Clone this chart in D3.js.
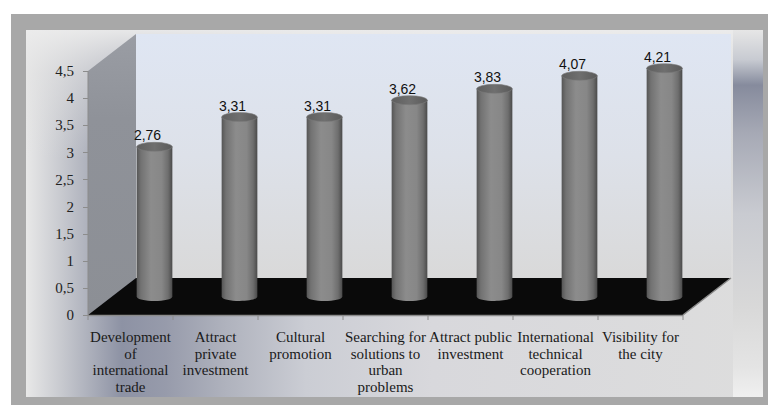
<!DOCTYPE html>
<html>
<head>
<meta charset="utf-8">
<script src="https://cdn.jsdelivr.net/npm/d3@7"></script>
<style>
  html, body { margin: 0; padding: 0; background: #fff; }
  svg { display: block; }
  .serif { font-family: "Liberation Serif", "Times New Roman", Times, serif; }
  .sans { font-family: "Liberation Sans", Arial, sans-serif; }
</style>
</head>
<body>
<div id="chart"></div>
<script>
"use strict";
// categories (with the line breaks used in the picture) and mean scores
var categories = [
  ["Development", "of", "international", "trade"],
  ["Attract", "private", "investment"],
  ["Cultural", "promotion"],
  ["Searching for", "solutions to", "urban", "problems"],
  ["Attract public", "investment"],
  ["International", "technical", "cooperation"],
  ["Visibility for", "the city"]
];
var values = [2.76, 3.31, 3.31, 3.62, 3.83, 4.07, 4.21];
var yTicks = [0, 0.5, 1, 1.5, 2, 2.5, 3, 3.5, 4, 4.5];

var w = 768, h = 405;
// oblique 3d offset of the back wall
var dx = 48, dy = -37;

var locale = d3.formatLocale({ decimal: ",", thousands: ".", grouping: [3], currency: ["", ""] });
var fmt = locale.format("~g");
var fmt2 = locale.format(".2f");

var svg = d3.select("#chart").append("svg")
  .attr("width", w)
  .attr("height", h);

var defs = svg.append("defs");

function linGrad(id, x1, y1, x2, y2, stops) {
  var g = defs.append("linearGradient").attr("id", id)
    .attr("x1", x1).attr("y1", y1).attr("x2", x2).attr("y2", y2);
  stops.forEach(function(s) {
    g.append("stop").attr("offset", s[0]).attr("stop-color", s[1])
      .attr("stop-opacity", s.length > 2 ? s[2] : 1);
  });
}

linGrad("panelH", 0, 0, 1, 0, [
  [0, "#e8e8e8"], [0.05, "#c6c8ce"], [0.13, "#8d92a4"], [0.19, "#979bab"],
  [0.27, "#afb2bd"], [0.38, "#cbcdd4"], [0.55, "#d8d8dc"], [1, "#dddddd"]
]);
linGrad("panelTop", 0, 0, 0, 1, [
  [0, "#ececec", 0.95], [0.12, "#e4e4e4", 0.55], [0.35, "#e0e0e0", 0]
]);
linGrad("rightStrip", 0, 0, 0, 1, [
  [0, "#e6e6e6"], [0.08, "#c8cbd2"], [0.15, "#868b9d"], [0.28, "#a6a9b5"],
  [0.5, "#c9cbd1"], [0.75, "#d8d8d8"], [0.92, "#e4e4e4"], [1, "#f0f0f0"]
]);
linGrad("backWall", 0, 0, 0, 1, [
  [0, "#dfe6f3"], [0.5, "#dde1e9"], [1, "#d9d9d9"]
]);
linGrad("sideWall", 0, 0, 0, 1, [
  [0, "#9a9da4"], [0.3, "#8f9299"], [1, "#8c8f95"]
]);
linGrad("barBody", 0, 0, 1, 0, [
  [0, "#555555"], [0.12, "#727272"], [0.4, "#8c8c8c"], [0.7, "#878787"],
  [0.88, "#6e6e6e"], [1, "#4a4a4a"]
]);
linGrad("barTop", 0, 0, 1, 0, [
  [0, "#5e5e5e"], [0.5, "#6f6f6f"], [1, "#5a5a5a"]
]);

// frame and panel
svg.append("rect").attr("x", 11).attr("y", 14).attr("width", w - 11).attr("height", h - 14)
  .attr("fill", "#a8a8a8");
svg.append("rect").attr("x", 26).attr("y", 30).attr("width", 737).attr("height", 367)
  .attr("fill", "url(#panelH)");
svg.append("rect").attr("x", 26).attr("y", 30).attr("width", 737).attr("height", 367)
  .attr("fill", "url(#panelTop)");
svg.append("rect").attr("x", 733).attr("y", 30).attr("width", 30).attr("height", 367)
  .attr("fill", "url(#rightStrip)");

// scales
var x = d3.scaleBand().domain(d3.range(categories.length)).range([88, 683]);
var y = d3.scaleLinear().domain([0, 4.5]).range([315, 71]);
var x0 = x.range()[0], x1 = x.range()[1];
var yTop = y(4.5), yBase = y(0);

// walls
svg.append("rect")
  .attr("x", x0 + dx).attr("y", yTop + dy)
  .attr("width", x1 - x0).attr("height", yBase - yTop)
  .attr("fill", "url(#backWall)");

svg.append("path")
  .attr("d", d3.line()([[x0, yTop], [x0 + dx, yTop + dy], [x0 + dx, yBase + dy], [x0, yBase]]) + "Z")
  .attr("fill", "url(#sideWall)");

// floor
svg.append("path")
  .attr("d", d3.line()([[x0, yBase], [x0 + dx, yBase + dy], [x1 + dx, yBase + dy], [x1, yBase]]) + "Z")
  .attr("fill", "#0a0a0a");
svg.append("path")
  .attr("d", d3.line()([[x1, yBase], [x1 + dx, yBase + dy]]))
  .attr("stroke", "#8a8a8a").attr("stroke-width", 1.5).attr("fill", "none");

// axes lines and ticks
svg.append("line").attr("x1", x0).attr("x2", x0).attr("y1", yTop).attr("y2", yBase)
  .attr("stroke", "#8c8c8c");
svg.append("line").attr("x1", x0).attr("x2", x1).attr("y1", yBase + 0.5).attr("y2", yBase + 0.5)
  .attr("stroke", "#8c8c8c").attr("stroke-width", 1.5);

var yAxis = svg.append("g");
yAxis.selectAll("line").data(yTicks).join("line")
  .attr("x1", x0 - 5).attr("x2", x0)
  .attr("y1", function(d) { return Math.round(y(d)) + 0.5; })
  .attr("y2", function(d) { return Math.round(y(d)) + 0.5; })
  .attr("stroke", "#8c8c8c");
yAxis.selectAll("text").data(yTicks).join("text")
  .attr("class", "serif")
  .attr("x", 74)
  .attr("y", function(d) { return y(d); })
  .attr("dy", "0.35em")
  .attr("text-anchor", "end")
  .style("font-size", "15px")
  .attr("fill", "#222")
  .text(function(d) { return fmt(d); });

var xTicks = d3.range(categories.length + 1).map(function(i) { return x0 + i * x.bandwidth(); });
svg.append("g").selectAll("line").data(xTicks).join("line")
  .attr("x1", function(d) { return d; }).attr("x2", function(d) { return d; })
  .attr("y1", yBase).attr("y2", yBase + 5)
  .attr("stroke", "#8c8c8c");

// category labels
var catG = svg.append("g").selectAll("text").data(categories).join("text")
  .attr("class", "serif")
  .attr("text-anchor", "middle")
  .style("font-size", "15px")
  .attr("fill", "#1a1a1a");
catG.each(function(lines, i) {
  var cx = x(i) + x.bandwidth() / 2;
  d3.select(this).selectAll("tspan").data(lines).join("tspan")
    .attr("x", cx)
    .attr("y", function(d, j) { return 342 + j * 16.5; })
    .text(function(d) { return d; });
});

// cylinders, standing at mid depth
var rx = x.bandwidth() * 0.21, ry = 4.5;
var bars = svg.append("g").selectAll("g").data(values).join("g");

bars.each(function(v, i) {
  var g = d3.select(this);
  var cx = x(i) + x.bandwidth() / 2 + dx / 2;
  var base = y(0) + dy / 2;
  var top = y(v) + dy / 2;
  var p = d3.path();
  p.moveTo(cx - rx, top);
  p.lineTo(cx - rx, base);
  p.bezierCurveTo(cx - rx, base + ry * 1.33, cx + rx, base + ry * 1.33, cx + rx, base);
  p.lineTo(cx + rx, top);
  p.closePath();
  g.append("path").attr("d", p.toString()).attr("fill", "url(#barBody)");
  g.append("ellipse")
    .attr("cx", cx).attr("cy", top)
    .attr("rx", rx).attr("ry", ry)
    .attr("fill", "url(#barTop)")
    .attr("stroke", "#7a7a7a").attr("stroke-width", 0.6);
  g.append("text")
    .attr("class", "sans")
    .attr("x", cx - 7)
    .attr("y", top - ry - 2)
    .attr("text-anchor", "middle")
    .style("font-size", "14px")
    .attr("fill", "#111")
    .text(fmt2(v));
});
</script>
</body>
</html>
